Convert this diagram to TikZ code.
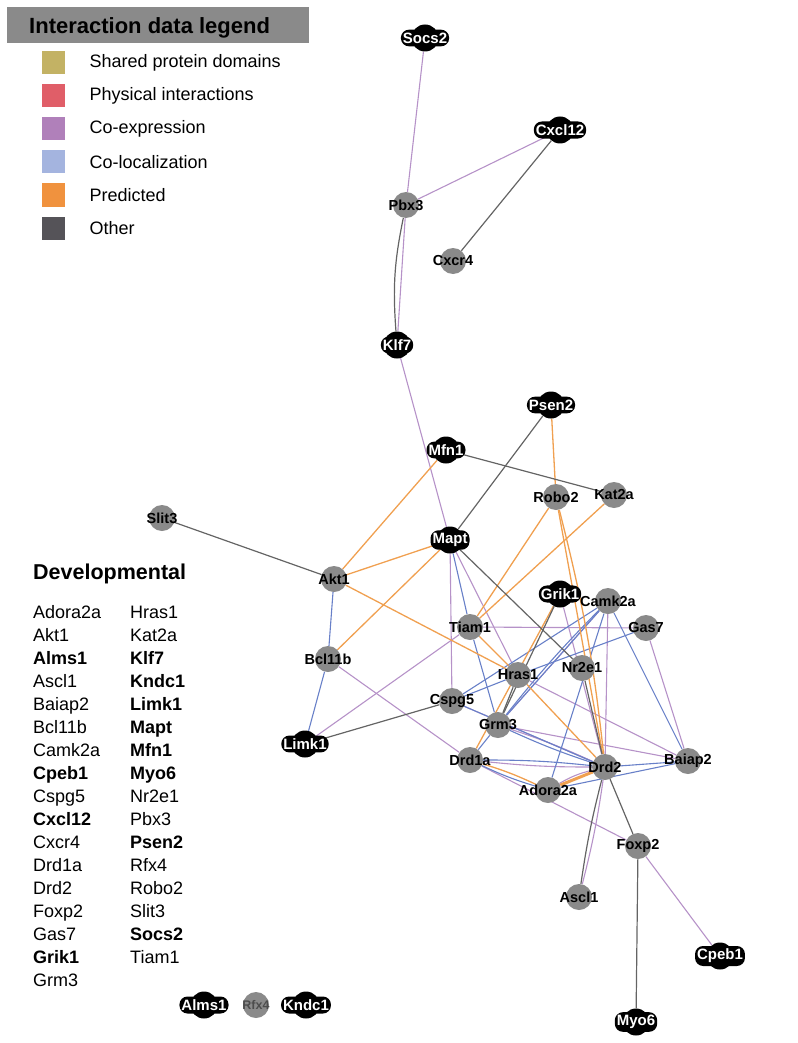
\documentclass[tikz,border=0pt]{standalone}
\usepackage{fontspec}
\setmainfont{Liberation Sans}
\usetikzlibrary{backgrounds}
\definecolor{nodegray}{RGB}{138,138,138}
\definecolor{headgray}{RGB}{138,138,138}
\definecolor{domaincol}{RGB}{195,178,100}
\definecolor{physcol}{RGB}{224,94,104}
\definecolor{coexpcol}{RGB}{176,128,186}
\definecolor{coloccol}{RGB}{164,180,223}
\definecolor{predcol}{RGB}{240,146,62}
\definecolor{othercol}{RGB}{85,83,88}
\definecolor{coexpline}{RGB}{182,146,200}
\definecolor{colocline}{RGB}{104,128,200}
\definecolor{predline}{RGB}{240,160,80}
\definecolor{otherline}{RGB}{100,100,100}

\tikzset{
  gene/.style={circle, fill=nodegray, minimum size=26pt, inner sep=0pt,
    label={[genelabel, name=lbl-#1]center:#1}},
  genelabel/.style={inner sep=0pt, font=\bfseries\fontsize{14.5}{15}\selectfont},
  quietgene/.style={circle, fill=nodegray, minimum size=26pt, inner sep=0pt,
    label={[genelabel, text=black!70, font=\bfseries\fontsize{12.5}{13}\selectfont,
      name=lbl-#1]center:#1}},
  query/.style={circle, fill=black, minimum size=27pt, inner sep=0pt},
  querytag/.style={fill=black, rounded corners=8pt, inner xsep=2pt, inner ysep=3pt,
    text=white, font=\bfseries\fontsize{15}{15}\selectfont},
  coexp/.style={draw=coexpline, line width=1.1pt},
  coloc/.style={draw=colocline, line width=1.1pt},
  pred/.style={draw=predline, line width=1.3pt},
  other/.style={draw=otherline, line width=1.2pt},
  keybox/.style={minimum size=23pt, inner sep=0pt},
  keytext/.style={anchor=west, font=\fontsize{18}{18}\selectfont},
  listitem/.style={anchor=base west, inner sep=0pt, font=\fontsize{18}{18}\selectfont}
}

% black query gene: dark disc plus label plate
\newcommand\querygene[3]{%
  \node[query] (#1) at (#2) {};
  \node[querytag] (#1-tag) at (#1) {#3};
}

\begin{document}
\begin{tikzpicture}[x=1pt, y=-1pt]
  \useasboundingbox (0,0) rectangle (797,1043);

  % legend
  \fill[headgray] (7,7) rectangle (309,43);
  \node[anchor=base west, inner sep=0pt, font=\bfseries\fontsize{22}{22}\selectfont]
    (legend-title) at (29,34) {Interaction data legend};
  \foreach \col/\txt [count=\i from 0] in {domaincol/Shared protein domains,
      physcol/Physical interactions, coexpcol/Co-expression,
      coloccol/Co-localization, predcol/Predicted, othercol/Other}{
    \node[keybox, fill=\col] (key\i) at (53.5,63+33*\i) {};
    \node[keytext] (keytxt\i) at (86,63+33*\i) {\txt};
  }

  % gene list
  \node[anchor=base west, inner sep=0pt, font=\bfseries\fontsize{21.5}{22}\selectfont]
    (dev-title) at (33,579) {Developmental};
  \foreach \g [count=\i from 0] in {Adora2a, Akt1, \textbf{Alms1}, Ascl1, Baiap2,
      Bcl11b, Camk2a, \textbf{Cpeb1}, Cspg5, \textbf{Cxcl12}, Cxcr4, Drd1a, Drd2,
      Foxp2, Gas7, \textbf{Grik1}, Grm3}
    \node[listitem] (dev-a\i) at (33,618+23*\i) {\g};
  \foreach \g [count=\i from 0] in {Hras1, Kat2a, \textbf{Klf7}, \textbf{Kndc1},
      \textbf{Limk1}, \textbf{Mapt}, \textbf{Mfn1}, \textbf{Myo6}, Nr2e1, Pbx3,
      \textbf{Psen2}, Rfx4, Robo2, Slit3, \textbf{Socs2}, Tiam1}
    \node[listitem] (dev-b\i) at (130,618+23*\i) {\g};

  % network nodes
  \querygene{socs2}{425,38}{Socs2}
  \querygene{cxcl12}{560,130}{Cxcl12}
  \node[gene=Pbx3] (pbx3) at (406,205) {};
  \node[gene=Cxcr4] (cxcr4) at (453,261) {};
  \querygene{klf7}{397,345}{Klf7}
  \querygene{psen2}{551,405}{Psen2}
  \querygene{mfn1}{446,450}{Mfn1}
  \node[gene=Robo2] (robo2) at (556,497) {};
  \node[gene=Kat2a] (kat2a) at (614,495) {};
  \node[gene=Slit3] (slit3) at (162,518) {};
  \querygene{mapt}{450,540}{Mapt}
  \node[gene=Akt1] (akt1) at (334,579) {};
  \querygene{grik1}{560,594}{Grik1}
  \node[gene=Camk2a] (camk2a) at (608,601) {};
  \node[gene=Tiam1] (tiam1) at (470,627) {};
  \node[gene=Gas7] (gas7) at (646,628) {};
  \node[gene=Bcl11b] (bcl11b) at (328,659) {};
  \node[gene=Hras1] (hras1) at (518,675) {};
  \node[gene=Nr2e1] (nr2e1) at (582,668) {};
  \node[gene=Cspg5] (cspg5) at (452,701) {};
  \node[gene=Grm3] (grm3) at (498,725) {};
  \querygene{limk1}{305,744}{Limk1}
  \node[gene=Drd1a] (drd1a) at (470,760) {};
  \node[gene=Drd2] (drd2) at (605,767) {};
  \node[gene=Baiap2] (baiap2) at (688,761) {};
  \node[gene=Adora2a] (adora2a) at (548,790) {};
  \node[gene=Foxp2] (foxp2) at (638,846) {};
  \node[gene=Ascl1] (ascl1) at (579,897) {};
  \querygene{cpeb1}{720,956}{Cpeb1}
  \querygene{myo6}{636,1022}{Myo6}
  \querygene{alms1}{204,1005}{Alms1}
  \node[quietgene=Rfx4] (rfx4) at (256,1005) {};
  \querygene{kndc1}{306,1005}{Kndc1}

  \begin{pgfonlayer}{background}
    % co-expression
    \draw[coexp] (socs2) -- (pbx3);
    \draw[coexp] (cxcl12) -- (pbx3);
    \draw[coexp] (pbx3) -- (klf7);
    \draw[coexp] (klf7) -- (mapt);
    \draw[coexp] (mapt) -- (cspg5);
    \draw[coexp] (mapt) -- (hras1);
    \draw[coexp] (tiam1) -- (gas7);
    \draw[coexp] (tiam1) -- (limk1);
    \draw[coexp] (bcl11b) -- (drd1a);
    \draw[coexp] (camk2a) -- (grm3);
    \draw[coexp] (camk2a) -- (drd2);
    \draw[coexp] (gas7) -- (baiap2);
    \draw[coexp] (hras1) -- (baiap2);
    \draw[coexp] (grm3) -- (baiap2);
    \draw[coexp, bend left=3] (grm3) to (drd2);
    \draw[coexp] (cspg5) -- (drd2);
    \draw[coexp, bend right=3] (drd1a) to (drd2);
    \draw[coexp, bend left=8] (adora2a) to (drd2);
    \draw[coexp] (drd1a) -- (foxp2);
    \draw[coexp] (foxp2) -- (cpeb1);
    \draw[coexp, bend left=3] (drd2) to (ascl1);
    \draw[coexp] (grik1) -- (drd2);
    % co-localization
    \draw[coloc] (akt1) -- (bcl11b);
    \draw[coloc] (bcl11b) -- (limk1);
    \draw[coloc] (mapt) -- (tiam1);
    \draw[coloc] (tiam1) -- (grm3);
    \draw[coloc] (camk2a) -- (cspg5);
    \draw[coloc] (camk2a) -- (grm3);
    \draw[coloc, bend right=3] (camk2a) to (grm3);
    \draw[coloc] (camk2a) -- (adora2a);
    \draw[coloc] (camk2a) -- (baiap2);
    \draw[coloc] (gas7) -- (hras1);
    \draw[coloc] (hras1) -- (cspg5);
    \draw[coloc] (cspg5) -- (drd2);
    \draw[coloc, bend right=3] (grm3) to (drd2);
    \draw[coloc] (drd1a) -- (grm3);
    \draw[coloc, bend left=3] (drd1a) to (drd2);
    \draw[coloc, bend right=4] (drd1a) to (adora2a);
    \draw[coloc] (drd2) -- (baiap2);
    \draw[coloc] (adora2a) -- (baiap2);
    % predicted
    \draw[pred] (mfn1) -- (akt1);
    \draw[pred] (akt1) -- (mapt);
    \draw[pred] (mapt) -- (bcl11b);
    \draw[pred] (akt1) -- (hras1);
    \draw[pred] (psen2) -- (robo2);
    \draw[pred] (robo2) -- (tiam1);
    \draw[pred] (kat2a) -- (tiam1);
    \draw[pred] (robo2) -- (drd2);
    \draw[pred, bend left=4] (robo2) to (drd2);
    \draw[pred] (grik1) -- (drd1a);
    \draw[pred] (tiam1) -- (hras1);
    \draw[pred] (hras1) -- (drd2);
    \draw[pred, bend left=4] (drd1a) to (adora2a);
    \draw[pred, line width=3pt] (adora2a) -- (drd2);
    % other
    \draw[other] (cxcl12) -- (cxcr4);
    \draw[other, bend right=8] (pbx3) to (klf7);
    \draw[other] (mfn1) -- (kat2a);
    \draw[other] (psen2) -- (mapt);
    \draw[other] (slit3) -- (akt1);
    \draw[other] (mapt) -- (nr2e1);
    \draw[other] (limk1) -- (cspg5);
    \draw[other] (grik1) -- (grm3);
    \draw[other] (hras1) -- (grm3);
    \draw[other] (nr2e1) -- (drd2);
    \draw[other, bend right=3] (drd2) to (ascl1);
    \draw[other] (drd2) -- (foxp2);
    \draw[other] (foxp2) -- (myo6);
  \end{pgfonlayer}
\end{tikzpicture}
\end{document}
